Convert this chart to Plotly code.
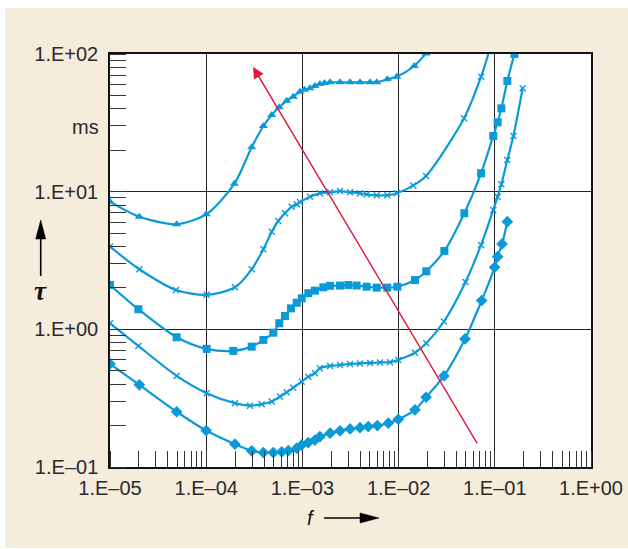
import plotly.graph_objects as go
import math

# ---------------- data ----------------
f_tri = [1e-5, 2.02e-5, 4.93e-5, 1.0e-4, 1.96e-4, 2.97e-4, 3.93e-4, 4.8e-4, 5.75e-4, 6.87e-4,
         8.04e-4, 9.44e-4, 1.05e-3, 1.2e-3, 1.35e-3, 1.52e-3, 1.7e-3, 1.94e-3, 2.46e-3, 3.13e-3,
         3.97e-3, 5.05e-3, 5.92e-3, 7.63e-3, 9.56e-3, 1.456e-2, 1.93e-2]
tau_tri = [8.46, 6.58, 5.80, 6.85, 11.4, 21.0, 30.0, 36.1, 41.0, 45.8,
           49.0, 53.2, 55.0, 56.4, 58.5, 60.6, 61.5, 62.3, 62.3, 62.3,
           62.3, 62.3, 62.3, 65.5, 68.4, 81.8, 101]

f_x1 = [1e-5, 2.02e-5, 4.85e-5, 1.01e-4, 1.99e-4, 2.97e-4, 3.93e-4, 4.8e-4, 5.61e-4, 6.59e-4,
        7.74e-4, 8.73e-4, 9.44e-4, 1.2e-3, 1.52e-3, 1.94e-3, 2.46e-3, 3.13e-3, 3.97e-3, 4.66e-3,
        5.92e-3, 7.63e-3, 9.56e-3, 1.422e-2, 1.93e-2, 4.79e-2, 7.2e-2, 8.75e-2]
tau_x1 = [3.99, 2.73, 1.93, 1.78, 2.02, 2.73, 3.82, 5.12, 6.12, 6.97,
          7.78, 8.1, 8.4, 9.2, 9.73, 9.9, 10.1, 9.9, 9.73, 9.57,
          9.42, 9.42, 9.73, 11.1, 13.0, 34.1, 68.4, 105]

f_sq = [1e-5, 1.97e-5, 4.93e-5, 1.01e-4, 1.91e-4, 2.97e-4, 3.93e-4, 4.98e-4, 5.75e-4, 6.59e-4,
        7.61e-4, 8.73e-4, 9.84e-4, 1.15e-3, 1.35e-3, 1.65e-3, 1.94e-3, 2.46e-3, 3.0e-3, 3.66e-3,
        4.66e-3, 5.92e-3, 7.63e-3, 9.69e-3, 1.48e-2, 1.94e-2, 2.99e-2, 4.82e-2, 7.2e-2, 9.64e-2,
        0.107, 0.117, 0.135, 0.160]
tau_sq = [2.10, 1.40, 0.876, 0.721, 0.697, 0.749, 0.838, 0.946, 1.107, 1.25,
          1.42, 1.56, 1.68, 1.83, 1.91, 2.02, 2.07, 2.08, 2.10, 2.08,
          2.04, 2.01, 2.01, 2.04, 2.28, 2.64, 3.71, 6.97, 13.6, 25.4,
          31.9, 40.3, 63.7, 100]

f_x2 = [1e-5, 1.97e-5, 4.93e-5, 1.01e-4, 1.99e-4, 2.85e-4, 3.78e-4, 4.8e-4, 5.85e-4, 6.87e-4,
        8.04e-4, 9.84e-4, 1.15e-3, 1.35e-3, 1.52e-3, 1.94e-3, 2.46e-3, 3.13e-3, 3.97e-3, 5.05e-3,
        6.4e-3, 8.14e-3, 9.93e-3, 1.48e-2, 1.94e-2, 2.96e-2, 4.96e-2, 7.2e-2, 9.64e-2, 0.107,
        0.117, 0.135, 0.156, 0.195]
tau_x2 = [1.107, 0.758, 0.459, 0.344, 0.291, 0.279, 0.286, 0.299, 0.325, 0.349,
          0.377, 0.417, 0.453, 0.480, 0.522, 0.542, 0.551, 0.56, 0.565, 0.57,
          0.575, 0.577, 0.600, 0.677, 0.793, 1.14, 2.21, 4.10, 7.37, 9.2,
          11.3, 17.0, 25.4, 56.4]

f_dia = [1e-5, 2.02e-5, 4.93e-5, 1.0e-4, 1.99e-4, 2.97e-4, 3.93e-4, 4.98e-4, 6.1e-4, 7.13e-4,
         8.73e-4, 9.84e-4, 1.15e-3, 1.35e-3, 1.52e-3, 1.94e-3, 2.46e-3, 3.13e-3, 3.97e-3, 4.84e-3,
         6.01e-3, 7.82e-3, 9.93e-3, 1.48e-2, 1.93e-2, 2.96e-2, 4.9e-2, 7.31e-2, 9.95e-2, 0.107,
         0.119, 0.135]
tau_dia = [0.561, 0.395, 0.252, 0.184, 0.1465, 0.131, 0.1272, 0.1272, 0.129, 0.1315,
           0.137, 0.1446, 0.1504, 0.157, 0.166, 0.176, 0.183, 0.189, 0.193, 0.1965,
           0.1998, 0.208, 0.222, 0.260, 0.321, 0.459, 0.852, 1.62, 2.82, 3.37,
           4.17, 6.05]

arrow_f = [6.7e-2, 3.07e-4]      # tail, head
arrow_tau = [0.145, 80.5]

x_tickvals = [1e-5, 1e-4, 1e-3, 1e-2, 1e-1, 1e0]
x_ticktext = ["1.E\u201305", "1.E\u201304", "1.E\u201303", "1.E\u201302", "1.E\u201301", "1.E+00"]
y_tickvals = [1e-1, 1e0, 1e1, 1e2]
y_ticktext = ["1.E\u201301", "1.E+00", "1.E+01", "1.E+02"]

# ---------------- style ----------------
W, H = 628, 549
ML, MR, MT, MB = 110, 37, 54, 82
PW, PH = W - ML - MR, H - MT - MB
BLUE = "#0b9ad8"
BEIGE = "#f6ecdc"
RED = "#e0183c"
FONT = "Liberation Sans"
FS = 20


def px(x):
    return (x - ML) / PW


def py(y):
    return (H - MB - y) / PH


fig = go.Figure()

series = [
    (f_tri, tau_tri, dict(symbol="triangle-up", size=8, color=BLUE)),
    (f_x1, tau_x1, dict(symbol="x-thin", size=6, color=BLUE, line=dict(width=1.4, color=BLUE))),
    (f_sq, tau_sq, dict(symbol="square", size=8, color=BLUE)),
    (f_x2, tau_x2, dict(symbol="x-thin", size=6, color=BLUE, line=dict(width=1.4, color=BLUE))),
    (f_dia, tau_dia, dict(symbol="diamond", size=9, color=BLUE)),
]
for fx, ty, mk in series:
    fig.add_trace(go.Scatter(
        x=fx, y=ty, mode="lines+markers",
        line=dict(color=BLUE, width=2.2, shape="spline", smoothing=0.8),
        marker=mk, showlegend=False, hoverinfo="skip"))

common_axis = dict(
    type="log", showline=True, mirror=True, linecolor="#111", linewidth=1.5,
    showgrid=True, gridcolor="#222", gridwidth=1, zeroline=False, automargin=False,
    ticks="", tickfont=dict(family=FONT, size=FS, color="#2a2a2a"),
    minor=dict(ticks="inside", ticklen=16, tickwidth=1, tickcolor="#333",
               dtick="D1", showgrid=False),
)
fig.update_xaxes(range=[-5, 0], tickvals=x_tickvals, ticktext=x_ticktext,
                 ticklabelstandoff=2, **common_axis)
fig.update_yaxes(range=[-1, 2], tickvals=y_tickvals, ticktext=y_ticktext,
                 ticklabelstandoff=6, **common_axis)

shapes = [
    # white margins around the beige panel
    dict(type="rect", xref="paper", yref="paper", x0=px(0), x1=px(5), y0=py(H), y1=py(0),
         fillcolor="white", line=dict(width=0), layer="below"),
    dict(type="rect", xref="paper", yref="paper", x0=px(0), x1=px(W), y0=py(8), y1=py(0),
         fillcolor="white", line=dict(width=0), layer="below"),
    dict(type="rect", xref="paper", yref="paper", x0=px(0), x1=px(W), y0=py(H), y1=py(548),
         fillcolor="white", line=dict(width=0), layer="below"),
    # tau arrow
    dict(type="line", xref="paper", yref="paper", x0=px(40.7), x1=px(40.7), y0=py(276), y1=py(236),
         line=dict(color="black", width=1.6)),
    dict(type="path", xref="paper", yref="paper",
         path=f"M {px(40.7)},{py(220)} L {px(35.7)},{py(239)} L {px(45.7)},{py(239)} Z",
         fillcolor="black", line=dict(color="black", width=0.5)),
    # f arrow
    dict(type="line", xref="paper", yref="paper", x0=px(324), x1=px(362), y0=py(518), y1=py(518),
         line=dict(color="black", width=1.6)),
    dict(type="path", xref="paper", yref="paper",
         path=f"M {px(379)},{py(518)} L {px(360)},{py(513)} L {px(360)},{py(523)} Z",
         fillcolor="black", line=dict(color="black", width=0.5)),
]

annotations = [
    dict(text="ms", xref="paper", yref="paper", x=px(101), y=py(127), xanchor="right",
         yanchor="middle", showarrow=False, font=dict(family=FONT, size=FS, color="#2a2a2a")),
    dict(text="<b><i>\u03c4</i></b>", xref="paper", yref="paper", x=px(40.5), y=py(291),
         xanchor="center", yanchor="middle", showarrow=False,
         font=dict(family="Liberation Serif", size=27, color="#111")),
    dict(text="<i>f</i>", xref="paper", yref="paper", x=px(311), y=py(518),
         xanchor="center", yanchor="middle", showarrow=False,
         font=dict(family=FONT, size=20, color="#111")),
    dict(text="", x=math.log10(arrow_f[1]), y=math.log10(arrow_tau[1]),
         ax=math.log10(arrow_f[0]), ay=math.log10(arrow_tau[0]),
         xref="x", yref="y", axref="x", ayref="y",
         showarrow=True, arrowhead=2, arrowsize=1.6, arrowwidth=1.4, arrowcolor=RED),
]

fig.update_layout(
    width=W, height=H,
    margin=dict(l=ML, r=MR, t=MT, b=MB, pad=0, autoexpand=False),
    paper_bgcolor=BEIGE, plot_bgcolor="white",
    shapes=shapes, annotations=annotations,
    font=dict(family=FONT),
)

fig.write_html("out.html")
